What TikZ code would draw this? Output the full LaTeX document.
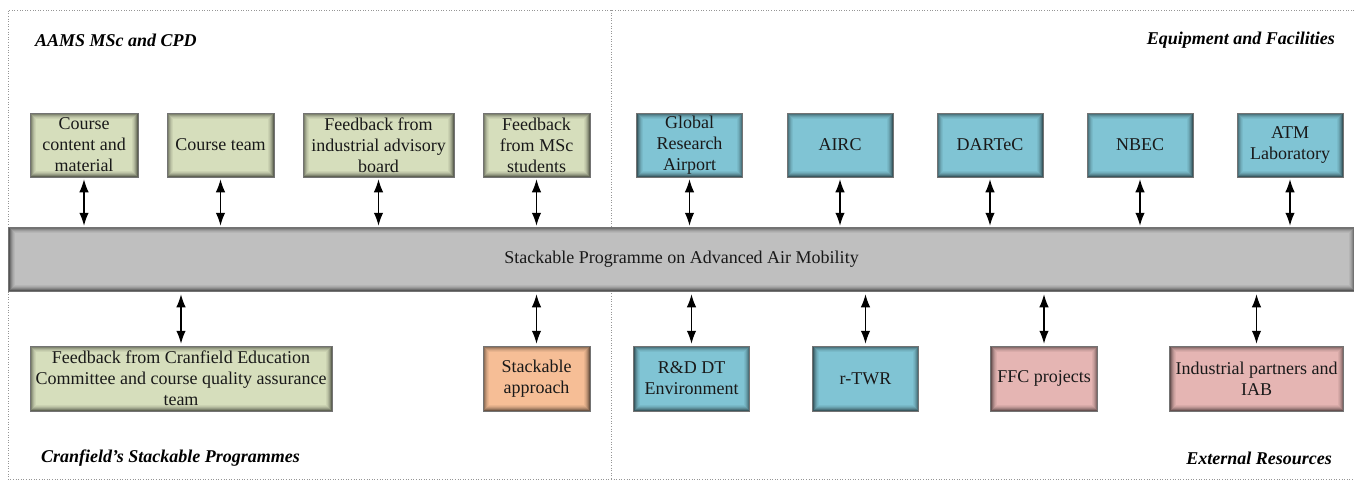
\documentclass[tikz,border=0pt]{standalone}
\usepackage{fontspec}
\setmainfont{Liberation Serif}
\usetikzlibrary{arrows.meta}
\definecolor{cgreen}{RGB}{214,222,188}
\definecolor{cblue}{RGB}{128,196,212}
\definecolor{corange}{RGB}{246,190,150}
\definecolor{cpink}{RGB}{229,181,179}
\definecolor{cgray}{RGB}{191,191,191}
\definecolor{frame}{RGB}{150,150,150}
\tikzset{
  glow/.style={path picture={
    \foreach \i/\o in {0.5/0.55,1.5/0.4,2.5/0.28,3.5/0.18,4.5/0.1,5.5/0.05}{
      \draw[black,opacity=\o,line width=1pt]
        ([shift={(\i pt,\i pt)}]path picture bounding box.south west) rectangle
        ([shift={(-\i pt,-\i pt)}]path picture bounding box.north east);}
  }},
  box/.style={glow, draw=black!55, line width=0.5pt, inner sep=0pt, align=center,
    font=\fontsize{18}{21}\selectfont, minimum height=64pt, text=black!90},
  gbox/.style={box, fill=cgreen},
  bbox/.style={box, fill=cblue},
  obox/.style={box, fill=corange},
  pbox/.style={box, fill=cpink},
  link/.style={{Latex[length=13pt,width=9.5pt]}-{Latex[length=13pt,width=9.5pt]}, line width=1.3pt},
  ttl/.style={font=\fontsize{18}{21}\selectfont\bfseries\itshape, inner sep=0pt},
  frm/.style={draw=frame, dotted, line width=0.6pt}
}
\begin{document}
\begin{tikzpicture}[x=1pt,y=-1pt]
\useasboundingbox (0,0) rectangle (1354,483);
% frame
\draw[frm] (1354,10) -- (8,10) -- (8,479) -- (1354,479);
\draw[frm] (611,10) -- (611,479);
% titles
\node[ttl, anchor=west] (t1) at (35,40) {AAMS MSc and CPD};
\node[ttl, anchor=east] (t2) at (1335,40) {Equipment and Facilities};
\node[ttl, anchor=west] (t3) at (41,458) {Cranfield’s Stackable Programmes};
\node[ttl, anchor=east] (t4) at (1332,458) {External Resources};
% bar
\node[box, fill=cgray, minimum width=1346pt, minimum height=64pt] (bar) at (681.5,259)
  {Stackable Programme on Advanced Air Mobility};
% top row
\node[gbox, minimum width=108pt] (a1) at (84,145) {Course\\content and\\material};
\node[gbox, minimum width=107pt] (a2) at (220.5,145) {Course team};
\node[gbox, minimum width=151pt] (a3) at (378.5,145) {Feedback from\\industrial advisory\\board};
\node[gbox, minimum width=107pt] (a4) at (536.5,145) {Feedback\\from MSc\\students};
\node[bbox, minimum width=106pt] (a5) at (689.5,145) {Global\\Research\\Airport};
\node[bbox, minimum width=106pt] (a6) at (840,145) {AIRC};
\node[bbox, minimum width=106pt] (a7) at (990,145) {DARTeC};
\node[bbox, minimum width=106pt] (a8) at (1140,145) {NBEC};
\node[bbox, minimum width=106pt] (a9) at (1290,145) {ATM\\Laboratory};
% bottom row
\node[gbox, minimum width=302pt, minimum height=65pt] (b1) at (181,378.5) {Feedback from Cranfield Education\\Committee and course quality assurance\\team};
\node[obox, minimum width=107pt, minimum height=65pt] (b2) at (536.5,378.5) {Stackable\\approach};
\node[bbox, minimum width=116pt, minimum height=65pt] (b3) at (691.5,378.5) {R\&D DT\\Environment};
\node[bbox, minimum width=106pt, minimum height=65pt] (b4) at (865.5,378.5) {r-TWR};
\node[pbox, minimum width=107pt, minimum height=65pt] (b5) at (1044,378.5) {FFC projects};
\node[pbox, minimum width=174pt, minimum height=65pt] (b6) at (1256.5,378.5) {Industrial partners and\\IAB};
% connectors
\foreach \n in {a1,a2,a3,a4,a5,a6,a7,a8,a9}{
  \draw[link] ([yshift=-2pt]\n.south) -- ([yshift=1pt]\n.south |- bar.north);
}
\foreach \n in {b1,b2,b3,b4,b5,b6}{
  \draw[link] ([yshift=-3pt]\n.north |- bar.south) -- ([yshift=2pt]\n.north);
}
\end{tikzpicture}
\end{document}
